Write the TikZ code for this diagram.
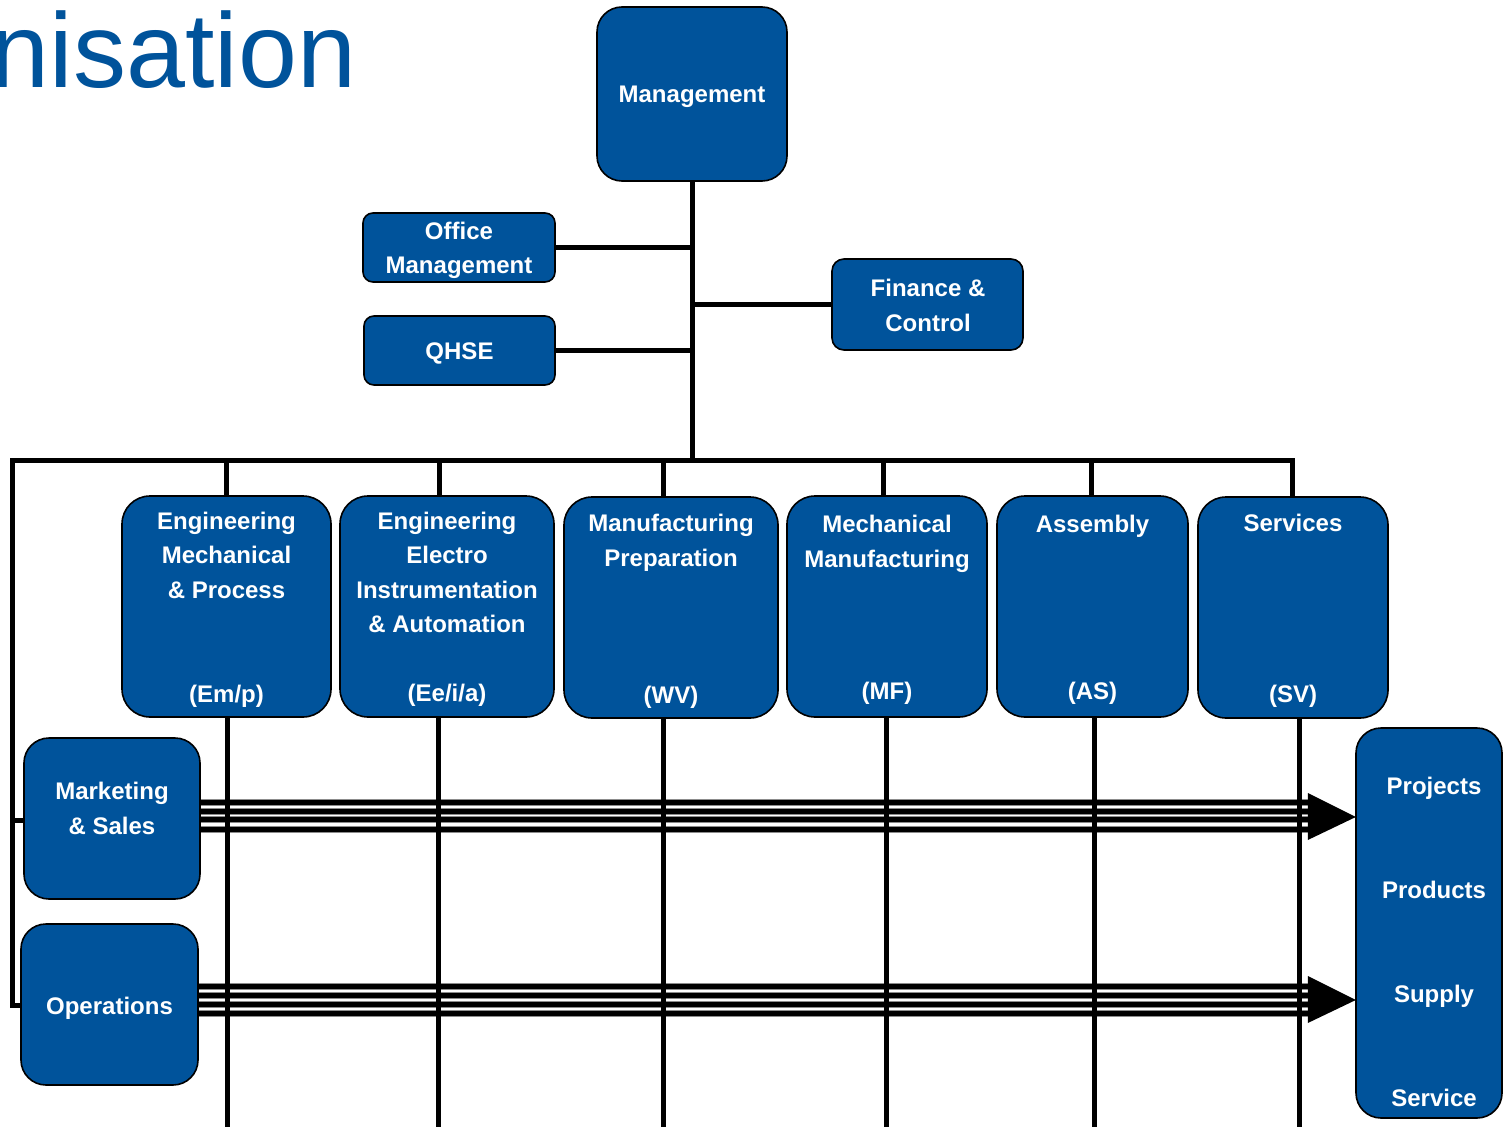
\documentclass[tikz,border=0pt]{standalone}
\usepackage{fontspec}
\setmainfont{Liberation Sans}
\usetikzlibrary{calc}
\definecolor{orgblue}{RGB}{0,83,155}
\begin{document}
\begin{tikzpicture}[x=1pt,y=-1pt,
  box/.style={draw=black, line width=1.6pt, fill=orgblue, rounded corners=#1, inner sep=0pt},
  box/.default=28pt,
  lbl/.style={text=white, font=\fontsize{24}{34.5}\selectfont\bfseries, align=center, inner sep=0pt},
  conn/.style={line width=5pt, black, line join=miter},
  flow/.style={line width=5pt, black, preaction={draw=black!45, line width=6.4pt}},
  head/.style={fill=black},
]
\clip (0,0) rectangle (1503,1126);
\fill[white] (0,0) rectangle (1503,1126);

% heading
\node[anchor=base west, inner sep=0pt, text=orgblue,
      font=\fontsize{106}{112}\selectfont] (heading) at (-9.5,88) {nisation};

% box shapes (placed first so connectors can refer to them; redrawn on top below)
\newcommand\orgboxes{%
\node[box=25pt, minimum width=190pt, minimum height=174pt] (mgmt) at (692,94) {};
\node[box=10pt, minimum width=192pt, minimum height=69pt] (office) at (459,247.5) {};
\node[box=10pt, minimum width=191pt, minimum height=69pt] (qhse) at (459.5,350.5) {};
\node[box=12pt, minimum width=191pt, minimum height=91pt] (fin) at (927.5,304.5) {};
\node[box, minimum width=209pt, minimum height=221pt] (emp) at (226.5,606.5) {};
\node[box, minimum width=214pt, minimum height=221pt] (eeia) at (447,606.5) {};
\node[box, minimum width=214pt, minimum height=221pt] (wv) at (671,607.5) {};
\node[box, minimum width=200pt, minimum height=221pt] (mf) at (887,606.5) {};
\node[box, minimum width=191pt, minimum height=221pt] (as) at (1092.5,606.5) {};
\node[box, minimum width=190pt, minimum height=221pt] (sv) at (1293,607.5) {};
\node[box=25pt, minimum width=176pt, minimum height=161pt] (mkt) at (112,818.5) {};
\node[box=25pt, minimum width=177pt, minimum height=161pt] (ops) at (109.5,1004.5) {};
\node[box=25pt, minimum width=146pt, minimum height=390pt] (proj) at (1429,923) {};
}
\begin{scope}[box/.style={inner sep=0pt, rounded corners=#1}, box/.default=28pt]
\orgboxes
\end{scope}

% bus coordinates
\coordinate (busL) at (12,460);
\coordinate (busR) at (1292,460);
\coordinate (busM) at (692,460);

% management and staff connectors
\draw[conn] (mgmt.south) -- (busM);
\draw[conn] (office.east |- 0,247) -- (692,247);
\draw[conn] (qhse.east |- 0,350) -- (692,350);
\draw[conn] (692,304) -- (fin.west |- 0,304);

% main bus with the drops to the departments and the left return line
\draw[conn] (ops.west |- 0,1005) -- (busL |- 0,1005) -- (busL) -- (busR) -- (sv.north -| busR);
\draw[conn] (busL |- 0,820) -- (mkt.west |- 0,820);
\draw[conn] (emp.north -| 226,0) -- (226,460);
\draw[conn] (eeia.north -| 439,0) -- (439,460);
\draw[conn] (wv.north -| 663,0) -- (663,460);
\draw[conn] (mf.north -| 883,0) -- (883,460);
\draw[conn] (as.north -| 1091,0) -- (1091,460);

% flow arrows towards the output column
\foreach \yy in {802.5,811.5,819.5,829.5}
  \draw[flow] (mkt.east |- 0,\yy) -- (1309,\yy);
\fill[head] (proj.west |- 0,817) -- ++(-48,-24) -- ++(0,47) -- cycle;
\foreach \yy in {986.5,995.5,1004.5,1013.5}
  \draw[flow] (ops.east |- 0,\yy) -- (1309,\yy);
\fill[head] (proj.west |- 0,1000) -- ++(-48,-24) -- ++(0,47) -- cycle;

% department lines continuing downwards
\coordinate (bottom) at (0,1135);
\draw[conn] (emp.south -| 227,0) -- (bottom -| 227,0);
\draw[conn] (eeia.south -| 438,0) -- (bottom -| 438,0);
\draw[conn] (wv.south -| 663,0) -- (bottom -| 663,0);
\draw[conn] (mf.south -| 886,0) -- (bottom -| 886,0);
\draw[conn] (as.south -| 1094,0) -- (bottom -| 1094,0);
\draw[conn] (sv.south -| 1299,0) -- (bottom -| 1299,0);

% boxes drawn over the lines
\orgboxes

% box texts
\node[lbl, anchor=north] (mgmtT) at (692,86) {Management};
\node[lbl, anchor=north] (officeT) at (459,221.7) {Office\\Management};
\node[lbl, anchor=north] (qhseT) at (459.5,342.7) {QHSE};
\node[lbl, anchor=north] (finT) at (928,279) {Finance \&\\Control};

\node[lbl, anchor=north] (empT) at (226.5,511.7) {Engineering\\Mechanical\\\& Process};
\node[lbl, anchor=north] (eeiaT) at (447,511.7) {Engineering\\Electro\\Instrumentation\\\& Automation};
\node[lbl, anchor=north] (wvT) at (671,514) {Manufacturing\\Preparation};
\node[lbl, anchor=north] (mfT) at (887,515) {Mechanical\\Manufacturing};
\node[lbl, anchor=north] (asT) at (1092.5,515) {Assembly};
\node[lbl, anchor=north] (svT) at (1293,514) {Services};

\node[lbl, anchor=base] (empC) at (226.5,702) {(Em/p)};
\node[lbl, anchor=base] (eeiaC) at (447,701.5) {(Ee/i/a)};
\node[lbl, anchor=base] (wvC) at (671,703.5) {(WV)};
\node[lbl, anchor=base] (mfC) at (887,699.5) {(MF)};
\node[lbl, anchor=base] (asC) at (1092.5,699.5) {(AS)};
\node[lbl, anchor=base] (svC) at (1293,702.5) {(SV)};

\node[lbl, anchor=north] (mktT) at (112,782) {Marketing\\\& Sales};
\node[lbl, anchor=north] (opsT) at (109.5,997) {Operations};

\node[lbl, anchor=base] (projA) at (1434,794.5) {Projects};
\node[lbl, anchor=base] (projB) at (1434,898.5) {Products};
\node[lbl, anchor=base] (projC) at (1434,1002.5) {Supply};
\node[lbl, anchor=base] (projD) at (1434,1106.5) {Service};
\end{tikzpicture}
\end{document}
